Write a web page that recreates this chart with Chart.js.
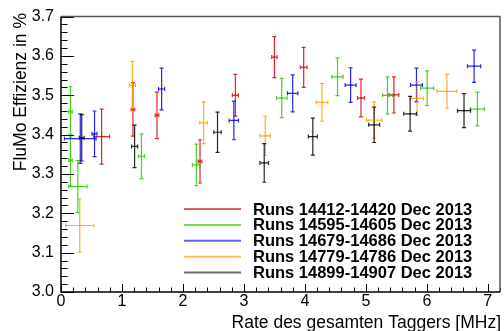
<!DOCTYPE html>
<html>
<head>
<meta charset="utf-8">
<script src="https://cdn.jsdelivr.net/npm/chart.js@4"></script>
<style>
  html, body { margin: 0; padding: 0; background: #fff; }
  #wrap { width: 504px; height: 331px; }
</style>
</head>
<body>
<div id="wrap"><canvas id="flumo-chart" width="504" height="331"></canvas></div>
<script>
const runLabels = ['Runs 14412-14420 Dec 2013', 'Runs 14595-14605 Dec 2013', 'Runs 14679-14686 Dec 2013',
  'Runs 14779-14786 Dec 2013', 'Runs 14899-14907 Dec 2013'];

const redX = [0.666, 1.18, 1.574, 2.28, 2.86, 3.50, 3.98, 4.92, 5.46];
const redY = [3.395, 3.464, 3.449, 3.332, 3.500, 3.597, 3.571, 3.493, 3.501];
const redXErr = [0.13, 0.03, 0.03, 0.03, 0.05, 0.044, 0.055, 0.057, 0.08];
const redYErr = [0.070, 0.068, 0.059, 0.055, 0.053, 0.052, 0.051, 0.048, 0.046];

const greenX = [0.155, 0.155, 0.276, 1.32, 2.22, 3.62, 4.535, 5.355, 6.005, 6.83];
const greenY = [3.458, 3.335, 3.268, 3.345, 3.323, 3.493, 3.547, 3.500, 3.518, 3.465];
const greenXErr = [0.03, 0.03, 0.15, 0.05, 0.065, 0.087, 0.093, 0.082, 0.107, 0.115];
const greenYErr = [0.064, 0.066, 0.066, 0.057, 0.053, 0.050, 0.048, 0.047, 0.044, 0.043];

const blueX = [0.316, 0.55, 1.65, 2.835, 3.80, 4.75, 5.83, 6.775];
const blueY = [3.390, 3.402, 3.516, 3.436, 3.505, 3.526, 3.526, 3.574];
const blueXErr = [0.26, 0.04, 0.05, 0.077, 0.085, 0.09, 0.098, 0.109];
const blueYErr = [0.063, 0.058, 0.053, 0.049, 0.047, 0.044, 0.043, 0.041];

const orangeX = [0.308, 1.17, 2.34, 3.35, 4.28, 5.136, 5.84, 6.33];
const orangeY = [3.169, 3.526, 3.430, 3.397, 3.482, 3.437, 3.492, 3.510];
const orangeXErr = [0.233, 0.05, 0.063, 0.085, 0.096, 0.126, 0.107, 0.164];
const orangeYErr = [0.068, 0.060, 0.053, 0.050, 0.048, 0.046, 0.043, 0.043];

const blackX = [0.34, 1.207, 2.567, 3.333, 4.13, 5.136, 5.726, 6.61];
const blackY = [3.392, 3.370, 3.406, 3.328, 3.395, 3.425, 3.453, 3.461];
const blackXErr = [0.04, 0.05, 0.06, 0.07, 0.074, 0.09, 0.104, 0.107];
const blackYErr = [0.059, 0.054, 0.051, 0.049, 0.047, 0.045, 0.044, 0.043];

const yTickLabels = ['3.0', '3.1', '3.2', '3.3', '3.4', '3.5', '3.6', '3.7'];
const xTickLabels = ['0', '1', '2', '3', '4', '5', '6', '7'];

const FONT = "'Liberation Sans', Arial, sans-serif";

function points(xs, ys, xe, ye) {
  return xs.map((x, i) => ({ x: x, y: ys[i], xerr: xe[i], yerr: ye[i] }));
}

const series = [
  { data: points(redX, redY, redXErr, redYErr), color: 'rgba(215,0,0,0.85)', legend: 'rgba(220,80,80,0.9)' },
  { data: points(greenX, greenY, greenXErr, greenYErr), color: 'rgba(45,200,0,0.85)', legend: 'rgba(100,220,60,0.9)' },
  { data: points(blueX, blueY, blueXErr, blueYErr), color: 'rgba(0,0,235,0.85)', legend: 'rgba(80,80,240,0.9)' },
  { data: points(orangeX, orangeY, orangeXErr, orangeYErr), color: 'rgba(255,160,0,0.85)', legend: 'rgba(255,185,80,0.95)' },
  { data: points(blackX, blackY, blackXErr, blackYErr), color: 'rgba(0,0,0,0.85)', legend: 'rgba(100,100,100,0.95)' }
];

// error bars with small end caps, through the chart scales
const errorBars = {
  id: 'errorBars',
  beforeDatasetsDraw(chart) {
    const { ctx, scales: { x, y } } = chart;
    const cap = 2;
    chart.data.datasets.forEach((ds) => {
      ctx.save();
      ctx.strokeStyle = ds.borderColor;
      ctx.lineWidth = 1.2;
      ds.data.forEach((p) => {
        const px = x.getPixelForValue(p.x);
        const py = y.getPixelForValue(p.y);
        const xl = x.getPixelForValue(p.x - p.xerr);
        const xr = x.getPixelForValue(p.x + p.xerr);
        const yt = y.getPixelForValue(p.y + p.yerr);
        const yb = y.getPixelForValue(p.y - p.yerr);
        ctx.beginPath();
        ctx.moveTo(px, yt); ctx.lineTo(px, yb);
        ctx.moveTo(px - cap, yt); ctx.lineTo(px + cap, yt);
        ctx.moveTo(px - cap, yb); ctx.lineTo(px + cap, yb);
        ctx.moveTo(xl, py); ctx.lineTo(xr, py);
        ctx.moveTo(xl, py - cap); ctx.lineTo(xl, py + cap);
        ctx.moveTo(xr, py - cap); ctx.lineTo(xr, py + cap);
        ctx.stroke();
      });
      ctx.restore();
    });
  }
};

// ROOT style frame, inside ticks, titles and legend
const rootFrame = {
  id: 'rootFrame',
  afterDraw(chart) {
    const { ctx, chartArea: a, scales: { x, y } } = chart;
    ctx.save();
    ctx.strokeStyle = '#000';
    ctx.lineWidth = 1;
    ctx.beginPath();
    for (let i = 0; i <= 35; i++) {
      const v = 3.0 + i * 0.02;
      const py = Math.round(y.getPixelForValue(v)) + 0.5;
      const len = (i % 5 === 0) ? 13 : 6.5;
      ctx.moveTo(a.left, py); ctx.lineTo(a.left + len, py);
    }
    for (let i = 0; i <= 36; i++) {
      const v = i * 0.2;
      const px = Math.round(x.getPixelForValue(v)) + 0.5;
      const len = (i % 5 === 0) ? 8 : 4.5;
      ctx.moveTo(px, a.bottom); ctx.lineTo(px, a.bottom - len);
    }
    ctx.stroke();

    ctx.strokeStyle = '#555';
    ctx.lineWidth = 1.5;
    ctx.beginPath();
    ctx.moveTo(a.left, a.top); ctx.lineTo(a.right, a.top); ctx.lineTo(a.right, a.bottom);
    ctx.stroke();
    ctx.strokeStyle = '#000';
    ctx.lineWidth = 1.5;
    ctx.beginPath();
    ctx.moveTo(a.left, a.top); ctx.lineTo(a.left, a.bottom); ctx.lineTo(a.right, a.bottom);
    ctx.stroke();

    ctx.fillStyle = '#000';
    ctx.font = '17.5px ' + FONT;
    ctx.textAlign = 'right';
    ctx.textBaseline = 'alphabetic';
    ctx.fillText('Rate des gesamten Taggers [MHz]', 501, 328);
    ctx.save();
    ctx.translate(26, 13);
    ctx.rotate(-Math.PI / 2);
    ctx.fillText('FluMo Effizienz in %', 0, 0);
    ctx.restore();

    ctx.font = 'bold 16.5px ' + FONT;
    ctx.textAlign = 'left';
    ctx.textBaseline = 'middle';
    chart.data.datasets.forEach((ds, i) => {
      const ly = 209 + i * 15.9;
      ctx.strokeStyle = ds.legendColor;
      ctx.lineWidth = 2;
      ctx.beginPath();
      ctx.moveTo(184, ly); ctx.lineTo(241, ly);
      ctx.stroke();
      ctx.fillText(ds.label, 253, ly + 1);
    });
    ctx.restore();
  }
};

const ctx = document.getElementById('flumo-chart').getContext('2d');
new Chart(ctx, {
  type: 'scatter',
  data: {
    datasets: series.map((s, i) => ({
      label: runLabels[i],
      data: s.data,
      borderColor: s.color,
      backgroundColor: s.color,
      legendColor: s.legend,
      pointStyle: 'rect',
      pointRadius: 1.1,
      pointBorderWidth: 0,
      showLine: false
    }))
  },
  options: {
    responsive: false,
    animation: false,
    layout: { padding: { top: 15, right: 4, left: 0, bottom: 0 } },
    plugins: {
      legend: { display: false },
      tooltip: { enabled: false },
      title: { display: false }
    },
    scales: {
      x: {
        type: 'linear',
        min: 0,
        max: 7.2,
        grid: { display: false, drawTicks: false },
        border: { display: false },
        ticks: {
          stepSize: 1,
          includeBounds: false,
          maxRotation: 0,
          autoSkip: false,
          padding: 0,
          color: '#000',
          font: { family: FONT, size: 16 },
          callback: (v, i) => xTickLabels[i]
        },
        afterFit: (scale) => { scale.height = 39; }
      },
      y: {
        type: 'linear',
        min: 3.0,
        max: 3.7,
        grid: { display: false, drawTicks: false },
        border: { display: false },
        ticks: {
          stepSize: 0.1,
          autoSkip: false,
          padding: 7,
          color: '#000',
          font: { family: FONT, size: 16 },
          callback: (v, i) => yTickLabels[i]
        },
        afterFit: (scale) => { scale.width = 61; }
      }
    }
  },
  plugins: [errorBars, rootFrame]
});
</script>
</body>
</html>
